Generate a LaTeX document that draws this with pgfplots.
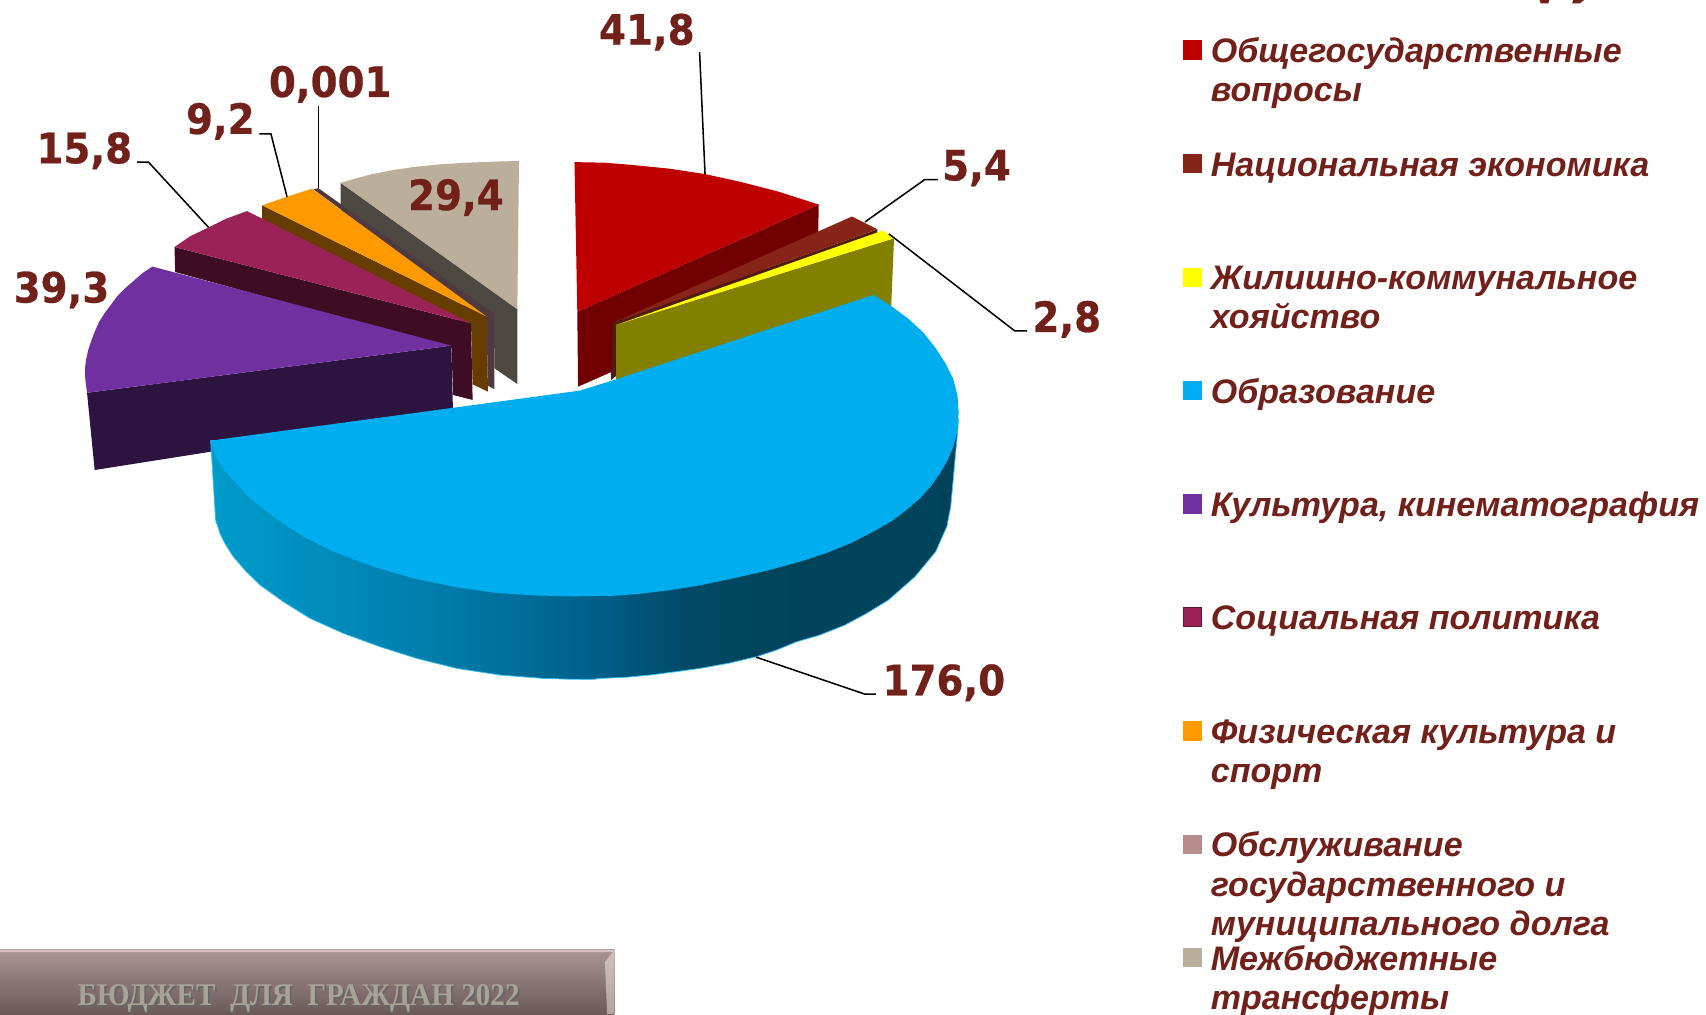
\documentclass[border=0pt]{standalone}
\usepackage{pgfplots}
\pgfplotsset{compat=1.18}
\usepackage{fontspec}
\setmainfont{Liberation Sans}
\newfontfamily\labfont{DejaVu Sans Bold}[FakeBold=0.6]
\newfontfamily\serfont{Liberation Serif}
\definecolor{txt}{HTML}{72201A}
\definecolor{cred}{HTML}{BE0000}\definecolor{credd}{HTML}{720000}
\definecolor{cbr}{HTML}{862517}\definecolor{cbrd}{HTML}{4F1A12}
\definecolor{cyel}{HTML}{FFFF00}\definecolor{cyeld}{HTML}{838000}
\definecolor{cblu}{HTML}{00AEEF}
\definecolor{cpur}{HTML}{7030A0}\definecolor{cpurd}{HTML}{2D1440}
\definecolor{cpin}{HTML}{9B2257}\definecolor{cpind}{HTML}{3F0D23}
\definecolor{cora}{HTML}{FF9900}\definecolor{corad}{HTML}{663C00}
\definecolor{cmau}{HTML}{B78C8A}\definecolor{cmaud}{HTML}{4E3A40}
\definecolor{ctan}{HTML}{BBAE9A}\definecolor{ctand}{HTML}{4D4841}
\definecolor{foot}{HTML}{A8A399}
\pgfdeclarehorizontalshading{bluegrad}{100bp}{
 rgb(0bp)=(0,0.61,0.80); rgb(25bp)=(0,0.61,0.80); rgb(39.9bp)=(0,0.49,0.67);
 rgb(51bp)=(0,0.37,0.53); rgb(56.6bp)=(0,0.29,0.41); rgb(61.8bp)=(0,0.27,0.36);
 rgb(75bp)=(0,0.26,0.35); rgb(100bp)=(0,0.26,0.35)}
\pgfdeclareverticalshading{bandgrad}{100bp}{
 rgb(0bp)=(0.42,0.35,0.35); rgb(25bp)=(0.42,0.35,0.35); rgb(75bp)=(0.67,0.58,0.58); rgb(100bp)=(0.67,0.58,0.58)}
\newcommand{\lab}[3]{\node[anchor=center,text=txt,inner sep=0pt,yscale=1.08,font=\labfont\fontsize{17.8pt}{20pt}\selectfont] at (axis cs:#1,#2) {#3};}
\newcommand{\leg}[3]{\node[anchor=base west,text=txt,inner sep=0pt,font=\bfseries\itshape\fontsize{15.65pt}{18pt}\selectfont] at (axis cs:#1,#2) {#3};}
\begin{document}
\begin{tikzpicture}
\begin{axis}[hide axis,scale only axis,width=784pt,height=466pt,xmin=0,xmax=1568,ymin=0,ymax=932,y dir=reverse,enlargelimits=false,clip=true]
% page extent
\path (axis cs:0,0) rectangle (axis cs:1568,932);
% tan
\addplot[fill=ctand,draw=none] coordinates {(313,168) (475.5,284) (475.5,353) (454.5,338.5) (454,300) (313,200)} -- cycle;
\addplot[fill=ctan,draw=none] coordinates {(313,168) (340,160.5) (360,156.5) (380,153.5) (405,151) (430,149.5) (455,148.5) (477,148) (475.5,284.3)} -- cycle;
% sliver 0,001
\addplot[fill=cmaud,draw=none] coordinates {(288,174) (292.6,172.9) (454.4,288.6) (454.3,357.8) (448.5,354.5) (447,291)} -- cycle;
% orange
\addplot[fill=corad,draw=none] coordinates {(241,188.7) (447.3,291) (448.5,360) (434.4,353.2) (433,300) (241,205)} -- cycle;
\addplot[fill=cora,draw=none] coordinates {(241,188.7) (263.8,180.8) (286.6,173.4) (447.3,291)} -- cycle;
% pink
\addplot[fill=cpind,draw=none] coordinates {(160.4,227) (432.9,297.2) (434.4,367.6) (416.4,363) (415,320) (161,250)} -- cycle;
\addplot[fill=cpin,draw=none] coordinates {(160.4,227) (175,217) (191.7,209) (208,201) (227,194) (432.9,297.2)} -- cycle;
% purple
\addplot[fill=cpurd,draw=none] coordinates {(80,361) (414.8,317.7) (416.4,380) (87,432)} -- cycle;
\addplot[fill=cpur,draw=none] coordinates {(140,245) (414.8,317.7) (80,361) (78.5,350) (78,340) (79,331) (81,322) (84,313) (87,305) (91,296) (96,288) (102,280) (108,272) (115,265) (123,258) (131,251)} -- cycle;
% red
\addplot[fill=credd,draw=none] coordinates {(530.6,286.5) (752.5,188) (752,215) (561.3,342.2) (531.3,355.4)} -- cycle;
\addplot[fill=cred,draw=none] coordinates {(528,149) (555,149.5) (580,151.5) (615,155) (648,160) (680,167) (715,176) (752.5,188) (530.6,286.5)} -- cycle;
% brown, olive, yellow
\addplot[fill=cbrd,draw=none] coordinates {(563,296.5) (806.5,210.8) (806.5,216) (567,300) (567,345) (561.6,349.3)} -- cycle;
\addplot[fill=cbr,draw=none] coordinates {(563.7,296.5) (783,199) (806.5,210.8)} -- cycle;
\addplot[fill=cyeld,draw=none] coordinates {(566.2,298.7) (821.7,219) (819,284) (566.2,350)} -- cycle;
\addplot[fill=cyel,draw=none] coordinates {(566.2,298.7) (811,212) (819,216) (821.7,219)} -- cycle;
% blue side
\addplot[shade,shading=bluegrad,draw=cblu!80!white,line width=0.35pt] coordinates {(193.6,405) (880.9,386) (880,398) (873.8,465.7) (870.2,484) (860,507) (841,530) (816.5,551.5) (796.6,563.7) (776.7,574.4) (753.7,583.6) (732.3,589.8) (713.9,597.4) (695.5,603.5) (670,609.5) (643.4,614.3) (620,617.5) (597.5,620.4) (575,622.5) (551.5,623.5) (545.4,624.4) (522,624.2) (499.4,623.5) (459.6,620.4) (419.7,614.3) (383,605.1) (349.3,594.4) (315.6,582.1) (284.9,568.3) (260.4,553) (239,537.7) (226,525) (214.4,511.6) (207,500) (202.2,490.2) (198.2,477.9)} -- cycle;
% blue top
\addplot[fill=cblu,draw=none] coordinates {(193.6,405) (533,359) (562.2,349.9) (803,271) (820,282) (835,293) (849,306) (860,320) (869,334) (876,348) (880,363) (881,378) (880.9,386) (879.5,398) (876.3,410.5) (871,423) (864,435) (855.5,447) (845.6,458) (834,468) (821.1,477.9) (802,489) (781.3,499.4) (759,508.5) (735.3,516.2) (705,524.5) (674,531.5) (643.4,538) (612.8,542.8) (590,545.5) (566.8,547.5) (527,548.1) (490.2,547.2) (453.4,544.7) (416.7,539.2) (379.9,531.5) (343.1,520.8) (306.4,507) (278.8,493.2) (251.2,474.9) (229.8,458) (211.4,438.1) (204,429) (199.1,421.2)} -- cycle;
% leaders
\addplot[black,line width=0.7pt] coordinates {(643,48) (648,160)};
\addplot[black,line width=0.7pt] coordinates {(795,204) (850,165) (862,165)};
\addplot[black,line width=0.7pt] coordinates {(817,215) (932.5,304) (944,304)};
\addplot[black,line width=0.7pt] coordinates {(695,604) (795,638) (805,638)};
\addplot[black,line width=0.7pt] coordinates {(126,149) (136.5,149) (191.7,209)};
\addplot[black,line width=0.7pt] coordinates {(238.5,123) (249,123) (263.8,180.8)};
\addplot[black,line width=0.7pt] coordinates {(292.7,97.4) (292.7,173)};
% labels
\lab{594.5}{29.5}{41,8}
\lab{897.5}{154.5}{5,4}
\lab{980.5}{293.5}{2,8}
\lab{867.5}{627.5}{176,0}
\lab{77.5}{138.5}{15,8}
\lab{202.5}{111.5}{9,2}
\lab{303.5}{77.5}{0,001}
\lab{56.5}{266.5}{39,3}
\lab{419}{181.5}{29,4}
% legend squares
\addplot[only marks,mark=square*,mark size=4.25pt,mark options={draw=cred,fill=cred}] coordinates {(1096,46)};
\addplot[only marks,mark=square*,mark size=4.25pt,mark options={draw=cbr,fill=cbr}] coordinates {(1096,150)};
\addplot[only marks,mark=square*,mark size=4.25pt,mark options={draw=cyel,fill=cyel}] coordinates {(1096,255)};
\addplot[only marks,mark=square*,mark size=4.25pt,mark options={draw=cblu,fill=cblu}] coordinates {(1096,359)};
\addplot[only marks,mark=square*,mark size=4.25pt,mark options={draw=cpur,fill=cpur}] coordinates {(1096,463)};
\addplot[only marks,mark=square*,mark size=4.25pt,mark options={draw=cpind!60!cpin,fill=cpin}] coordinates {(1096,567)};
\addplot[only marks,mark=square*,mark size=4.25pt,mark options={draw=cora,fill=cora}] coordinates {(1096,672)};
\addplot[only marks,mark=square*,mark size=4.25pt,mark options={draw=cmau,fill=cmau}] coordinates {(1096,776)};
\addplot[only marks,mark=square*,mark size=4.25pt,mark options={draw=ctan,fill=ctan}] coordinates {(1096,880)};
% legend text
\leg{1112.5}{57}{Общегосударственные}
\leg{1112.5}{93}{вопросы}
\leg{1112.5}{162}{Национальная экономика}
\leg{1112.5}{266}{Жилишно-коммунальное}
\leg{1112.5}{302}{хояйство}
\leg{1112.5}{371}{Образование}
\leg{1112.5}{475}{Культура, кинематография}
\leg{1112.5}{579}{Социальная политика}
\leg{1112.5}{683.5}{Физическая культура и}
\leg{1112.5}{719}{спорт}
\leg{1112.5}{787.5}{Обслуживание}
\leg{1112.5}{824}{государственного и}
\leg{1112.5}{860}{муниципального долга}
\leg{1112.5}{892}{Межбюджетные}
\leg{1112.5}{928}{трансферты}
% cropped title remnants
\addplot[fill=txt,draw=none] coordinates {(1415,0) (1424,0) (1423,3) (1416,3)} -- cycle;
\addplot[fill=txt,draw=none] coordinates {(1446,0) (1456,0) (1452,3) (1445,3)} -- cycle;
% footer band
\addplot[shade,shading=bandgrad,draw=none] coordinates {(0,873) (565,873) (565,932) (0,932)} -- cycle;
\addplot[fill=white!75!cmau,fill opacity=0.55,draw=none] coordinates {(565,873) (565,932) (558,932) (556,884)} -- cycle;
\addplot[fill=white!75!cmau,fill opacity=0.6,draw=none] coordinates {(0,873) (565,873) (564,875) (0,875)} -- cycle;
\node[anchor=center,text=black!60,inner sep=0pt,xscale=0.925,font=\serfont\bfseries\fontsize{14.5pt}{16pt}\selectfont] at (axis cs:276,919.5) {БЮДЖЕТ\ \ ДЛЯ\ \ ГРАЖДАН 2022};
\node[anchor=center,text=foot,inner sep=0pt,xscale=0.925,font=\serfont\bfseries\fontsize{14.5pt}{16pt}\selectfont] at (axis cs:274.5,918) {БЮДЖЕТ\ \ ДЛЯ\ \ ГРАЖДАН 2022};
\end{axis}
\end{tikzpicture}
\end{document}
